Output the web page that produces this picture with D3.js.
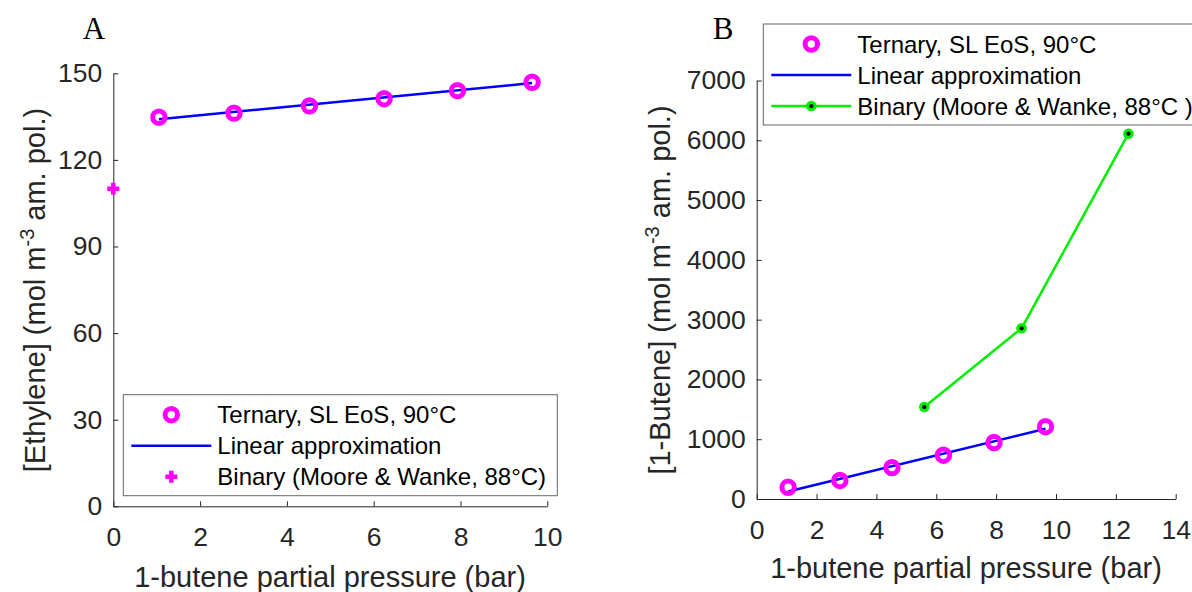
<!DOCTYPE html>
<html>
<head>
<meta charset="utf-8">
<script src="https://cdn.jsdelivr.net/npm/d3@7"></script>
<style>
  body { margin: 0; background: #fff; }
  text { font-family: Arial, "Liberation Sans", sans-serif; fill: #262626; }
</style>
</head>
<body>
<div id="chart"></div>
<script>
// values
var pressure = [1.05, 2.78, 4.52, 6.24, 7.93, 9.65];
var ethyleneTernary = [134.8, 136.2, 138.7, 141.2, 144.0, 146.9];
var ethyleneLinearX = [1.05, 9.65];
var ethyleneLinearY = [134.1, 146.6];
var ethyleneBinaryX = [0];
var ethyleneBinaryY = [110];

var buteneTernary = [196, 310, 525, 733, 944, 1209];
var buteneLinearX = [1.05, 9.65];
var buteneLinearY = [125, 1175];
var buteneBinaryX = [5.6, 8.85, 12.42];
var buteneBinaryY = [1540, 2855, 6110];

var ticksXA = [0, 2, 4, 6, 8, 10];
var ticksYA = [0, 30, 60, 90, 120, 150];
var ticksXB = [0, 2, 4, 6, 8, 10, 12, 14];
var ticksYB = [0, 1000, 2000, 3000, 4000, 5000, 6000, 7000];

var legendA = ["Ternary, SL EoS, 90\u00b0C", "Linear approximation", "Binary (Moore & Wanke, 88\u00b0C)"];
var legendB = ["Ternary, SL EoS, 90\u00b0C", "Linear approximation", "Binary (Moore & Wanke, 88\u00b0C )"];

var svg = d3.select("#chart").append("svg")
  .attr("width", 1192)
  .attr("height", 592);

var magenta = "#ff00ff";
var blue = "#0000ff";
var green = "#00ee00";

function drawAxes(x, y, tx, ty) {
  var bottom = y.range()[0];
  var left = x.range()[0];
  var gx = svg.append("g")
    .attr("transform", `translate(0, ${bottom})`)
    .call(d3.axisBottom(x).tickValues(tx).tickFormat(d3.format("d"))
      .tickSizeInner(-5).tickSizeOuter(0).tickPadding(21));
  var gy = svg.append("g")
    .attr("transform", `translate(${left}, 0)`)
    .call(d3.axisLeft(y).tickValues(ty).tickFormat(d3.format("d"))
      .tickSizeInner(-5).tickSizeOuter(0).tickPadding(11));
  [gx, gy].forEach(function(g) {
    g.attr("font-size", null).attr("font-family", null);
    g.selectAll("path, line").attr("stroke", "#262626");
    g.selectAll("text")
      .style("font-size", "26.5px")
      .style("fill", "#262626")
      .style("font-family", "Arial, 'Liberation Sans', sans-serif");
  });
}

function ring(g, cx, cy) {
  g.append("circle").attr("cx", cx).attr("cy", cy).attr("r", 6.2)
    .attr("fill", "none").attr("stroke", magenta).attr("stroke-width", 5);
}

function plus(g, cx, cy) {
  g.append("path")
    .attr("d", `M${cx - 6},${cy}H${cx + 6}M${cx},${cy - 6}V${cy + 6}`)
    .attr("stroke", magenta).attr("stroke-width", 4.5);
}

function greenDot(g, cx, cy) {
  g.append("circle").attr("cx", cx).attr("cy", cy).attr("r", 5.3)
    .attr("fill", green).attr("stroke", "none");
  g.append("circle").attr("cx", cx).attr("cy", cy).attr("r", 2.1)
    .attr("fill", "#000");
}

function yLabel(cx, cy, name) {
  var t = svg.append("text")
    .attr("transform", `translate(${cx}, ${cy}) rotate(-90)`)
    .attr("text-anchor", "middle")
    .style("font-size", "29px");
  t.append("tspan").text(name + " (mol m");
  t.append("tspan").style("font-size", "20px").attr("dy", -11).text("-3");
  t.append("tspan").attr("dy", 11).text(" am. pol.)");
}

function legend(bx, by, bw, labels, third) {
  var g = svg.append("g");
  g.append("rect").attr("x", bx).attr("y", by).attr("width", bw).attr("height", 101)
    .attr("fill", "#fff").attr("stroke", "#666").attr("stroke-width", 1);
  var rows = [by + 20, by + 51, by + 82];
  ring(g, bx + 48, rows[0]);
  g.append("line").attr("x1", bx + 8).attr("x2", bx + 88)
    .attr("y1", rows[1]).attr("y2", rows[1]).attr("stroke", blue).attr("stroke-width", 2.5);
  if (third === "plus") {
    plus(g, bx + 48, rows[2]);
  } else {
    g.append("line").attr("x1", bx + 8).attr("x2", bx + 88)
      .attr("y1", rows[2]).attr("y2", rows[2]).attr("stroke", green).attr("stroke-width", 2.5);
    greenDot(g, bx + 48, rows[2]);
  }
  labels.forEach(function(s, i) {
    g.append("text").attr("x", bx + 94).attr("y", rows[i])
      .attr("dy", "0.36em").style("font-size", "24px").style("fill", "#000").text(s);
  });
}

// ---------- panel A ----------
var xA = d3.scaleLinear().domain([0, 10]).range([113.3, 547.3]);
var yA = d3.scaleLinear().domain([0, 150]).range([506.3, 73.3]);
drawAxes(xA, yA, ticksXA, ticksYA);

var line = d3.line().x(d => d[0]).y(d => d[1]);

var gA = svg.append("g");
gA.append("path")
  .attr("d", line(ethyleneLinearX.map((v, i) => [xA(v), yA(ethyleneLinearY[i])])))
  .attr("fill", "none").attr("stroke", blue).attr("stroke-width", 2.5);
pressure.forEach(function(p, i) { ring(gA, xA(p), yA(ethyleneTernary[i])); });
ethyleneBinaryX.forEach(function(p, i) { plus(gA, xA(p), yA(ethyleneBinaryY[i])); });

legend(123.3, 394.7, 434, legendA, "plus");

svg.append("text").attr("x", 330).attr("y", 577).attr("dy", "0.36em")
  .attr("text-anchor", "middle").style("font-size", "29px").text("1-butene partial pressure (bar)");
yLabel(45, 290, "[Ethylene]");
svg.append("text").attr("x", 94).attr("y", 39).attr("text-anchor", "middle")
  .style("font-size", "31px").style("font-family", "'Liberation Serif', 'Times New Roman', serif")
  .style("fill", "#000").text("A");

// ---------- panel B ----------
var xB = d3.scaleLinear().domain([0, 14]).range([756.7, 1175.7]);
var yB = d3.scaleLinear().domain([0, 7000]).range([499, 80.5]);
drawAxes(xB, yB, ticksXB, ticksYB);

var gB = svg.append("g");
gB.append("path")
  .attr("d", line(buteneBinaryX.map((v, i) => [xB(v), yB(buteneBinaryY[i])])))
  .attr("fill", "none").attr("stroke", green).attr("stroke-width", 2.5);
buteneBinaryX.forEach(function(p, i) { greenDot(gB, xB(p), yB(buteneBinaryY[i])); });
gB.append("path")
  .attr("d", line(buteneLinearX.map((v, i) => [xB(v), yB(buteneLinearY[i])])))
  .attr("fill", "none").attr("stroke", blue).attr("stroke-width", 2.5);
pressure.forEach(function(p, i) { ring(gB, xB(p), yB(buteneTernary[i])); });

legend(763.3, 24, 445, legendB, "line");

svg.append("text").attr("x", 966).attr("y", 568).attr("dy", "0.36em")
  .attr("text-anchor", "middle").style("font-size", "29px").text("1-butene partial pressure (bar)");
yLabel(670, 290, "[1-Butene]");
svg.append("text").attr("x", 723).attr("y", 39).attr("text-anchor", "middle")
  .style("font-size", "31px").style("font-family", "'Liberation Serif', 'Times New Roman', serif")
  .style("fill", "#000").text("B");
</script>
</body>
</html>
